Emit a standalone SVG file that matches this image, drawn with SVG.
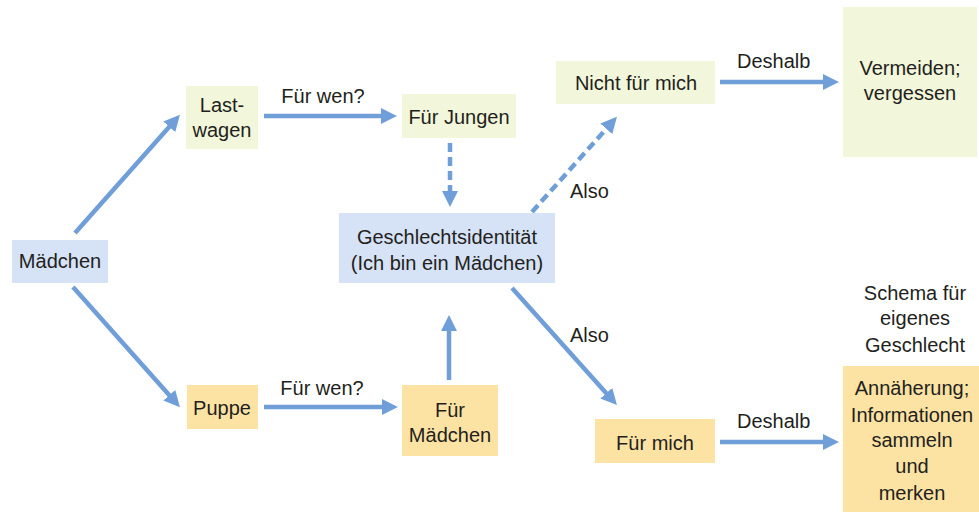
<svg xmlns="http://www.w3.org/2000/svg" width="979" height="520" viewBox="0 0 979 520">
<style>
text{font-family:"Liberation Sans",Arial,sans-serif;font-size:20px;fill:#231f20;text-anchor:middle}
.l{text-anchor:start}
.g{fill:#f2f6da}
.b{fill:#d6e2f5}
.o{fill:#fde3a3}
.a{stroke:#6f9ed8;stroke-width:4.5;fill:none}
.d{stroke-dasharray:9 5}
</style>
<defs>
<marker id="h" markerUnits="userSpaceOnUse" markerWidth="16" markerHeight="16" refX="1" refY="7.5" orient="auto" viewBox="0 0 15 15">
<path d="M0,0 L15,7.5 L0,15 z" fill="#6f9ed8"/>
</marker>
</defs>
<rect width="979" height="520" fill="#ffffff"/>
<g id="connectors">
<line class="a" x1="75" y1="233" x2="170" y2="126" marker-end="url(#h)"/>
<line class="a" x1="264" y1="116" x2="382" y2="116" marker-end="url(#h)"/>
<line class="a d" x1="450" y1="143" x2="450" y2="192" marker-end="url(#h)"/>
<line class="a d" x1="532" y1="212" x2="607" y2="128" marker-end="url(#h)"/>
<line class="a" x1="720" y1="82" x2="824" y2="82" marker-end="url(#h)"/>
<line class="a" x1="73" y1="287" x2="170" y2="396" marker-end="url(#h)"/>
<line class="a" x1="264" y1="407" x2="383" y2="407" marker-end="url(#h)"/>
<line class="a" x1="449" y1="380" x2="449" y2="330" marker-end="url(#h)"/>
<line class="a" x1="512" y1="288" x2="607" y2="394" marker-end="url(#h)"/>
<line class="a" x1="720" y1="442" x2="824" y2="442" marker-end="url(#h)"/>
<text x="323" y="103">Für wen?</text>
<text class="l" x="570" y="198">Also</text>
<text class="l" x="737" y="68">Deshalb</text>
<text x="322" y="395">Für wen?</text>
<text class="l" x="570" y="342">Also</text>
<text class="l" x="737" y="428">Deshalb</text>
</g>
<g id="maedchen"><rect class="b" x="12" y="240" width="96" height="43"/><text x="60" y="268">Mädchen</text></g>
<g id="lastwagen"><rect class="g" x="186" y="86" width="72" height="63"/><text x="222" y="112">Last-</text><text x="222" y="137">wagen</text></g>
<g id="fuerjungen"><rect class="g" x="402" y="94" width="114" height="44"/><text x="459" y="124">Für Jungen</text></g>
<g id="geschlechtsidentitaet"><rect class="b" x="339" y="213" width="216" height="70"/><text x="447" y="244">Geschlechtsidentität</text><text x="447" y="270">(Ich bin ein Mädchen)</text></g>
<g id="nichtfuermich"><rect class="g" x="556" y="61" width="159" height="43"/><text x="636" y="90">Nicht für mich</text></g>
<g id="vermeiden"><rect class="g" x="843" y="7" width="134" height="150"/><text x="910" y="75">Vermeiden;</text><text x="910" y="100">vergessen</text></g>
<g id="puppe"><rect class="o" x="187" y="385" width="71" height="44"/><text x="222" y="415">Puppe</text></g>
<g id="fuermaedchen"><rect class="o" x="402" y="385" width="96" height="71"/><text x="450" y="417">Für</text><text x="450" y="442">Mädchen</text></g>
<g id="fuermich"><rect class="o" x="595" y="419" width="120" height="44"/><text x="655" y="450">Für mich</text></g>
<g id="schema"><text x="915" y="300">Schema für</text><text x="915" y="325">eigenes</text><text x="915" y="352">Geschlecht</text></g>
<g id="annaeherung"><rect class="o" x="843" y="366" width="136" height="146"/><text x="912" y="395">Annäherung;</text><text x="912" y="422">Informationen</text><text x="912" y="447">sammeln</text><text x="912" y="473">und</text><text x="912" y="500">merken</text></g>
</svg>
